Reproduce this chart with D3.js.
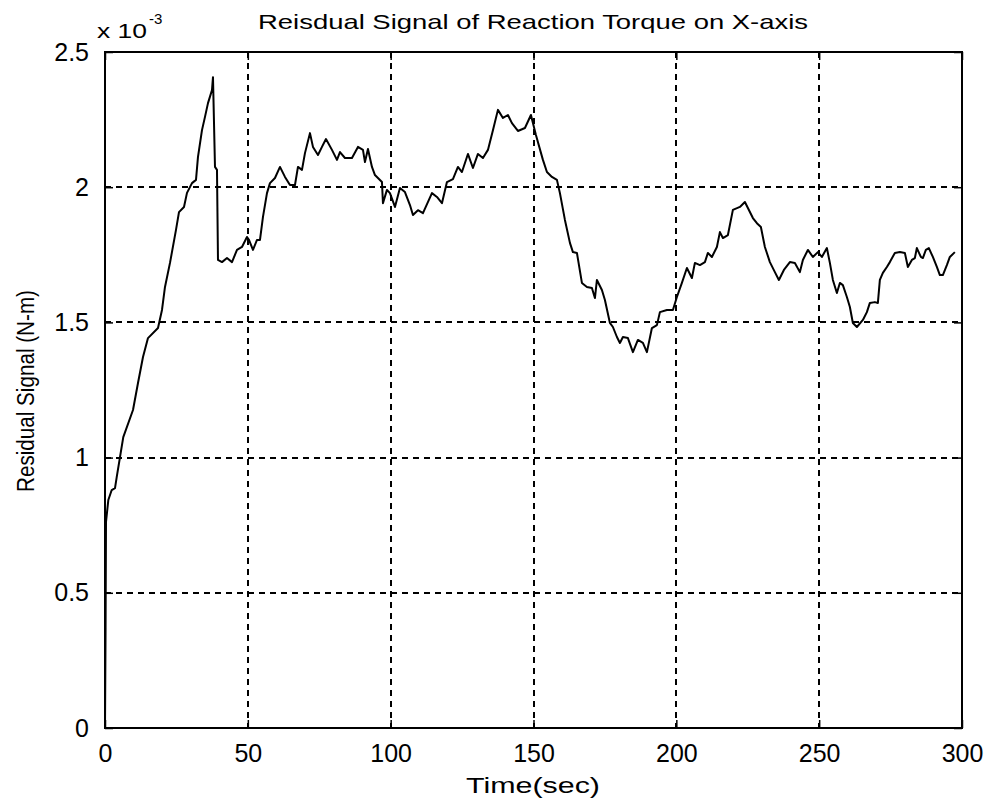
<!DOCTYPE html>
<html>
<head>
<meta charset="utf-8">
<script src="https://cdn.jsdelivr.net/npm/d3@7"></script>
<style>
  html, body { margin: 0; padding: 0; background: #fff; }
  svg { display: block; }
  .lbl { font-family: "Liberation Sans", Arial, sans-serif; fill: #000; }
</style>
</head>
<body>
<svg id="chart" width="987" height="802"></svg>
<script>
// Residual signal of the reaction torque on the X axis (values in units of 1e-3 N-m)
const timeSec = [
  0, 0.2, 0.35, 1.16, 2.35, 3.5, 4.1, 5.25, 6.4, 9.8, 11.55, 13.3, 15.05, 18.55, 19.95,
  21.0, 22.75, 24.85, 25.9, 27.65, 28.7, 30.45, 31.85, 32.55, 33.95, 35.0, 36.05, 37.45, 37.8,
  38.5, 39.2, 39.55, 40.95, 42.7, 44.45, 46.2, 47.95, 49.7, 50.4, 51.8, 53.2, 54.25, 55.3,
  56.7, 57.75, 59.5, 61.25, 63.0, 64.75, 66.5, 67.55, 68.95, 70.0, 71.75, 72.8, 74.55, 75.95,
  77.35, 79.45, 81.2, 82.25, 84.0, 86.45, 88.55, 90.3, 91.0, 92.05, 93.45, 94.5, 95.55, 96.95,
  97.3, 98.7, 99.75, 101.5, 103.25, 105.0, 106.75, 107.8, 109.55, 111.3, 114.45, 116.2, 117.95,
  119.7, 121.8, 123.55, 124.95, 127.05, 128.8, 130.55, 132.3, 134.05, 135.8, 137.55, 139.3,
  141.05, 142.45, 144.55, 147.0, 149.1, 150.85, 153.3, 154.7, 156.45, 158.2, 159.25, 161.0,
  162.75, 163.8, 165.2, 166.95, 168.7, 170.45, 171.5, 172.2, 173.95, 175.0, 176.75, 177.8,
  179.2, 180.25, 181.3, 183.05, 184.8, 186.55, 188.3, 189.7, 191.45, 193.2, 194.25, 196.7,
  198.8, 200.2, 201.95, 203.7, 205.45, 206.5, 208.25, 210.0, 211.05, 212.45, 214.2, 215.25,
  216.3, 218.05, 219.8, 222.25, 224.0, 225.05, 226.8, 228.2, 229.6, 231.0, 232.75, 234.5,
  235.9, 237.65, 239.75, 241.5, 243.25, 244.3, 246.05, 247.8, 249.55, 250.95, 252.7, 253.75,
  254.8, 256.2, 257.25, 258.3, 259.7, 260.75, 261.8, 263.2, 265.3, 266.7, 267.75, 269.5,
  270.55, 271.25, 272.3, 273.7, 274.75, 276.5, 278.25, 280.0, 281.05, 282.45, 283.5, 284.2,
  285.6, 286.3, 287.35, 288.4, 289.8, 291.2, 292.25, 293.3, 294.7, 295.75, 297.5
];
const residualMilli = [
  0, 0.37, 0.762, 0.843, 0.880, 0.887, 0.928, 1.002, 1.076, 1.176, 1.276, 1.372, 1.442, 1.479, 1.546,
  1.631, 1.720, 1.842, 1.908, 1.927, 1.979, 2.015, 2.027, 2.112, 2.211, 2.260, 2.311, 2.359, 2.407,
  2.075, 2.064, 1.731, 1.723, 1.738, 1.723, 1.768, 1.779, 1.816, 1.805, 1.768, 1.805, 1.805, 1.890,
  1.978, 2.015, 2.034, 2.075, 2.038, 2.008, 2.008, 2.075, 2.064, 2.126, 2.200, 2.149, 2.119, 2.149,
  2.178, 2.138, 2.101, 2.130, 2.108, 2.108, 2.149, 2.138, 2.093, 2.141, 2.075, 2.045, 2.034, 2.019,
  1.941, 1.990, 1.978, 1.927, 1.997, 1.982, 1.934, 1.897, 1.915, 1.904, 1.978, 1.964, 1.941,
  2.019, 2.030, 2.075, 2.056, 2.123, 2.071, 2.123, 2.108, 2.138, 2.211, 2.286, 2.256,
  2.267, 2.237, 2.208, 2.219, 2.267, 2.193, 2.101, 2.056, 2.038, 2.027, 1.978, 1.879,
  1.794, 1.760, 1.757, 1.646, 1.631, 1.627, 1.590, 1.657, 1.620, 1.583, 1.498, 1.483,
  1.446, 1.424, 1.446, 1.442, 1.390, 1.435, 1.424, 1.390, 1.479, 1.490, 1.538, 1.546,
  1.546, 1.594, 1.646, 1.701, 1.664, 1.720, 1.712, 1.723, 1.757, 1.742, 1.779, 1.834,
  1.812, 1.823, 1.916, 1.927, 1.945, 1.923, 1.886, 1.867, 1.853, 1.779, 1.723, 1.686,
  1.657, 1.694, 1.723, 1.720, 1.686, 1.731, 1.768, 1.742, 1.760, 1.742, 1.775, 1.720,
  1.657, 1.609, 1.646, 1.638, 1.594, 1.557, 1.498, 1.483, 1.509, 1.538, 1.572, 1.575,
  1.572, 1.657, 1.683, 1.705, 1.723, 1.757, 1.760, 1.757, 1.705, 1.731, 1.738, 1.775,
  1.742, 1.738, 1.768, 1.775, 1.742, 1.705, 1.675, 1.675, 1.712, 1.742, 1.760
];
const xTicks = [0, 50, 100, 150, 200, 250, 300];
const yTicks = [0, 0.5, 1, 1.5, 2, 2.5];
const yTickLabels = ["0", "0.5", "1", "1.5", "2", "2.5"];

const titleText = "Reisdual Signal of Reaction Torque on X-axis";
const xLabelText = "Time(sec)";
const yLabelText = "Residual Signal (N-m)";

const margin = { left: 105, right: 25, top: 52, bottom: 74 };
const W = 987, H = 802;
const svg = d3.select("#chart");

const x = d3.scaleLinear().domain([0, 300]).range([margin.left, W - margin.right]);
const y = d3.scaleLinear().domain([0, 2.5]).range([H - margin.bottom, margin.top]);

const x0 = x.range()[0], x1 = x.range()[1];
const y0 = y.range()[0], y1 = y.range()[1];

// Dashed grid
const grid = svg.append("g").attr("stroke", "#000").attr("stroke-width", 1.6)
  .attr("stroke-dasharray", "6,5").attr("shape-rendering", "crispEdges");
grid.selectAll("line.v").data(xTicks.slice(1, -1)).join("line")
  .attr("x1", d => Math.round(x(d))).attr("x2", d => Math.round(x(d)))
  .attr("y1", y1).attr("y2", y0);
grid.selectAll("line.h").data(yTicks.slice(1, -1)).join("line")
  .attr("y1", d => Math.round(y(d))).attr("y2", d => Math.round(y(d)))
  .attr("x1", x0).attr("x2", x1);

// Inward ticks on all four sides, labels on bottom and left
const fontSize = 25;
const bottomAxis = d3.axisBottom(x).tickValues(xTicks).tickSizeInner(-8).tickSizeOuter(0).tickPadding(16);
const topAxis = d3.axisTop(x).tickValues(xTicks).tickSizeInner(-8).tickSizeOuter(0).tickFormat("");
const leftAxis = d3.axisLeft(y).tickValues(yTicks).tickSizeInner(-8).tickSizeOuter(0).tickPadding(16)
  .tickFormat((d, i) => yTickLabels[i]);
const rightAxis = d3.axisRight(y).tickValues(yTicks).tickSizeInner(-8).tickSizeOuter(0).tickFormat("");

function styleAxis(g) {
  g.select(".domain").remove();
  g.selectAll(".tick line").attr("stroke", "#000").attr("stroke-width", 1.5);
  g.selectAll(".tick text").attr("class", "lbl").style("font-size", fontSize + "px");
}
svg.append("g").attr("transform", `translate(0,${y0})`).call(bottomAxis).call(styleAxis);
svg.append("g").attr("transform", `translate(0,${y1})`).call(topAxis).call(styleAxis);
svg.append("g").attr("transform", `translate(${x0},0)`).call(leftAxis).call(styleAxis);
svg.append("g").attr("transform", `translate(${x1},0)`).call(rightAxis).call(styleAxis);
svg.selectAll(".tick text").attr("font-family", null);

// Plot box
svg.append("rect").attr("x", x0).attr("y", y1).attr("width", x1 - x0).attr("height", y0 - y1)
  .attr("fill", "none").attr("stroke", "#000").attr("stroke-width", 2).attr("shape-rendering", "crispEdges");

// Residual curve
const pts = timeSec.map((t, i) => [t, residualMilli[i]]);
const line = d3.line().x(d => x(d[0])).y(d => y(d[1]));
svg.append("path").datum(pts).attr("d", line)
  .attr("fill", "none").attr("stroke", "#000").attr("stroke-width", 2)
  .attr("stroke-linejoin", "round");

// Exponent label
svg.append("text").attr("class", "lbl").attr("x", 97).attr("y", 38)
  .attr("textLength", 50).attr("lengthAdjust", "spacingAndGlyphs")
  .style("font-size", "21px").text("x 10");
svg.append("text").attr("class", "lbl").attr("x", 149).attr("y", 24)
  .style("font-size", "15px").text("-3");

// Title and axis labels
svg.append("text").attr("class", "lbl").attr("x", 533).attr("y", 29)
  .attr("text-anchor", "middle").attr("textLength", 550).attr("lengthAdjust", "spacingAndGlyphs")
  .style("font-size", "21px").text(titleText);
svg.append("text").attr("class", "lbl").attr("x", 533).attr("y", 793)
  .attr("text-anchor", "middle").attr("textLength", 134).attr("lengthAdjust", "spacingAndGlyphs")
  .style("font-size", "22px").text(xLabelText);
svg.append("text").attr("class", "lbl")
  .attr("transform", `translate(34,391) rotate(-90)`)
  .attr("text-anchor", "middle").attr("textLength", 202).attr("lengthAdjust", "spacingAndGlyphs")
  .style("font-size", "23px").text(yLabelText);
</script>
</body>
</html>
